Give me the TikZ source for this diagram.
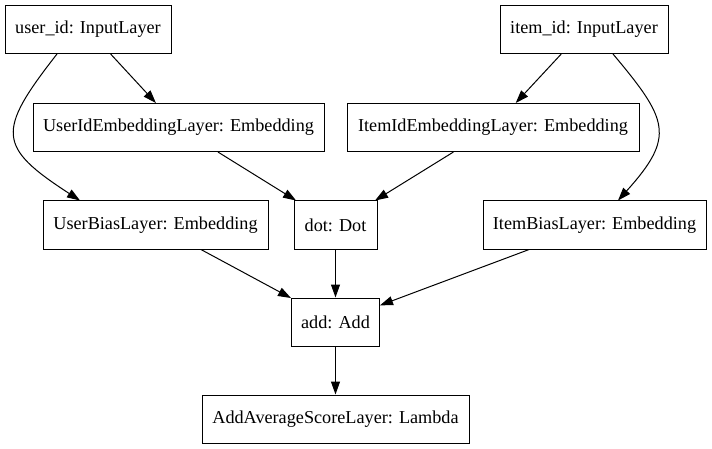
\documentclass[tikz,border=0pt]{standalone}
\usepackage{fontspec}
\setmainfont{Liberation Serif}
\usepackage{tikz}
\usetikzlibrary{arrows.meta}

\tikzset{
  layer/.style={draw, line width=1pt, minimum height=48pt, inner sep=0pt, font=\fontsize{18.2}{22}\selectfont},
  link/.style={-{Triangle[length=13pt, width=9pt]}, line width=1pt},
}

\begin{document}
\begin{tikzpicture}[x=1pt, y=-1pt]

\useasboundingbox (0,0) rectangle (712,449);

% input nodes
\node[layer, minimum width=166pt] (user_id) at (88, 29.5) {user\_id: InputLayer};
\node[layer, minimum width=168pt] (item_id) at (584, 29.5) {item\_id: InputLayer};

% embedding nodes
\node[layer, minimum width=291pt] (user_emb) at (178.5, 127.5) {UserIdEmbeddingLayer: Embedding};
\node[layer, minimum width=292pt] (item_emb) at (493, 127.5) {ItemIdEmbeddingLayer: Embedding};

% bias and dot nodes
\node[layer, minimum width=225pt] (user_bias) at (155.5, 225) {UserBiasLayer: Embedding};
\node[layer, minimum width=83pt] (dot) at (335.5, 225) {dot: Dot};
\node[layer, minimum width=223pt] (item_bias) at (594.5, 225) {ItemBiasLayer: Embedding};

% output nodes
\node[layer, minimum width=88pt] (add) at (335.5, 322) {add: Add};
\node[layer, minimum width=267pt] (avg) at (335.5, 419) {AddAverageScoreLayer: Lambda};

% inputs to embeddings
\draw[link] (user_id) -- (user_emb);
\draw[link] (item_id) -- (item_emb);
\draw[link] ([xshift=-31pt]user_id.south) to[out=232, in=147, looseness=1.7] ([xshift=-75.5pt]user_bias.north);
\draw[link] ([xshift=29pt]item_id.south) to[out=310, in=48, looseness=1.5] ([xshift=23.5pt]item_bias.north);

% embeddings to dot
\draw[link] (user_emb) -- (dot);
\draw[link] (item_emb) -- (dot);

% into add
\draw[link] (user_bias) -- (add);
\draw[link] (dot) -- (add);
\draw[link] (item_bias) -- (add);

% add to output
\draw[link] (add) -- (avg);

\end{tikzpicture}
\end{document}
